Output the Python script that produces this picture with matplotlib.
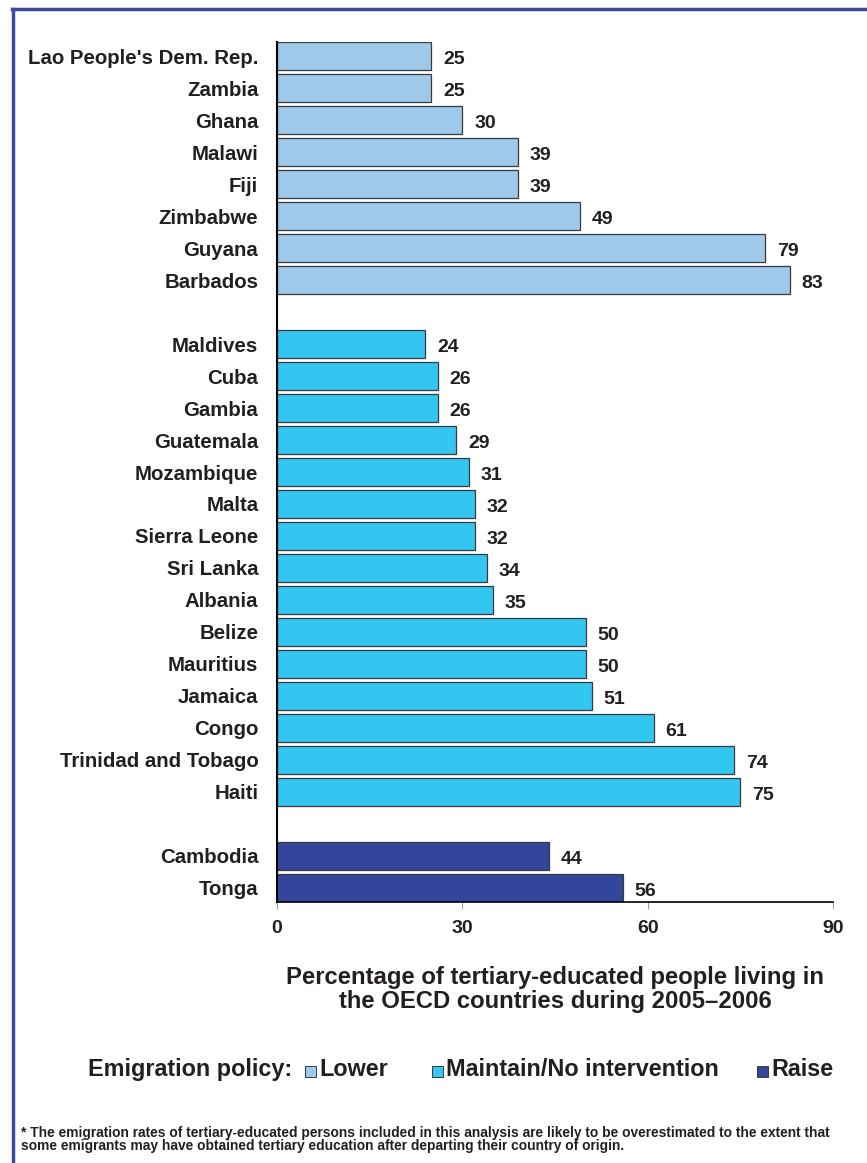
import matplotlib.pyplot as plt
from matplotlib.lines import Line2D
from matplotlib.patches import Rectangle

plt.rcParams['font.family'] = ['Liberation Sans', 'DejaVu Sans']
plt.rcParams['font.weight'] = 'bold'

lower = ["Lao People's Dem. Rep.", "Zambia", "Ghana", "Malawi", "Fiji",
         "Zimbabwe", "Guyana", "Barbados"]
lower_vals = [25, 25, 30, 39, 39, 49, 79, 83]

maintain = ["Maldives", "Cuba", "Gambia", "Guatemala", "Mozambique", "Malta",
            "Sierra Leone", "Sri Lanka", "Albania", "Belize", "Mauritius",
            "Jamaica", "Congo", "Trinidad and Tobago", "Haiti"]
maintain_vals = [24, 26, 26, 29, 31, 32, 32, 34, 35, 50, 50, 51, 61, 74, 75]

raise_ = ["Cambodia", "Tonga"]
raise_vals = [44, 56]

groups = [("Lower", lower, lower_vals, "#9ec9ea"),
          ("Maintain/No intervention", maintain, maintain_vals, "#33c6f1"),
          ("Raise", raise_, raise_vals, "#33469b")]

txt = "#231f20"
fig = plt.figure(figsize=(8.67, 11.63), dpi=100)
ax = fig.add_axes([0.3195, 0.2244, 0.6413, 0.7395])

pos = 0
ticks, labels = [], []
for name, cats, vals, col in groups:
    ys = list(range(pos, pos + len(cats)))
    ax.barh(ys, vals, height=0.88, color=col, edgecolor="#3a3a3a", linewidth=0.9)
    for y, v in zip(ys, vals):
        ax.text(v + 1.9, y + 0.1, str(v), va="center", ha="left",
                fontsize=14, fontweight="bold", color=txt)
    ticks += ys
    labels += cats
    pos += len(cats) + 1

ax.set_ylim(pos - 1 - 0.56, -0.44)
ax.set_xlim(0, 90)
ax.set_yticks(ticks)
ax.set_yticklabels(labels, fontsize=14.7, fontweight="bold", color=txt)
ax.tick_params(axis="y", length=0, pad=13.5)
ax.set_xticks([0, 30, 60, 90])
ax.tick_params(axis="x", length=5, color="#999999", labelsize=14,
               labelcolor=txt, pad=8)
for s in ["top", "right"]:
    ax.spines[s].set_visible(False)
ax.spines["left"].set_linewidth(1.5)
ax.spines["bottom"].set_linewidth(1.2)

fig.text(0.640, 0.1495,
         "Percentage of tertiary-educated people living in\n"
         "the OECD countries during 2005\u20132006",
         fontsize=17.2, fontweight="bold", color=txt, ha="center", va="center",
         multialignment="center", linespacing=1.05)

# legend row
fig.text(0.1015, 0.0800, "Emigration policy:", fontsize=16.8, fontweight="bold",
         color=txt, va="center")
leg_x = [0.352, 0.498, 0.873]
for (name, cats, vals, col), lx in zip(groups, leg_x):
    fig.patches.append(Rectangle((lx, 0.0739), 0.0127, 0.0095,
                                 transform=fig.transFigure, facecolor=col,
                                 edgecolor="#3a3a3a", linewidth=0.7))
    fig.text(lx + 0.0165, 0.0800, name, fontsize=16.8, fontweight="bold",
             color=txt, va="center")

fig.text(0.0242, 0.0200,
         "* The emigration rates of tertiary-educated persons included in this "
         "analysis are likely to be overestimated to the extent that\n"
         "some emigrants may have obtained tertiary education after departing "
         "their country of origin.",
         fontsize=9.95, fontweight="bold", color=txt, va="center",
         linespacing=0.95)

# frame
frame_col = "#3a4a9e"
fig.add_artist(Line2D([0.0150, 0.0150], [0.0, 0.9923], color=frame_col,
                      linewidth=2.5, transform=fig.transFigure))
fig.add_artist(Line2D([0.0136, 1.0], [0.9923, 0.9923], color=frame_col,
                      linewidth=2.5, transform=fig.transFigure))

fig.savefig("out.png", dpi=100)
